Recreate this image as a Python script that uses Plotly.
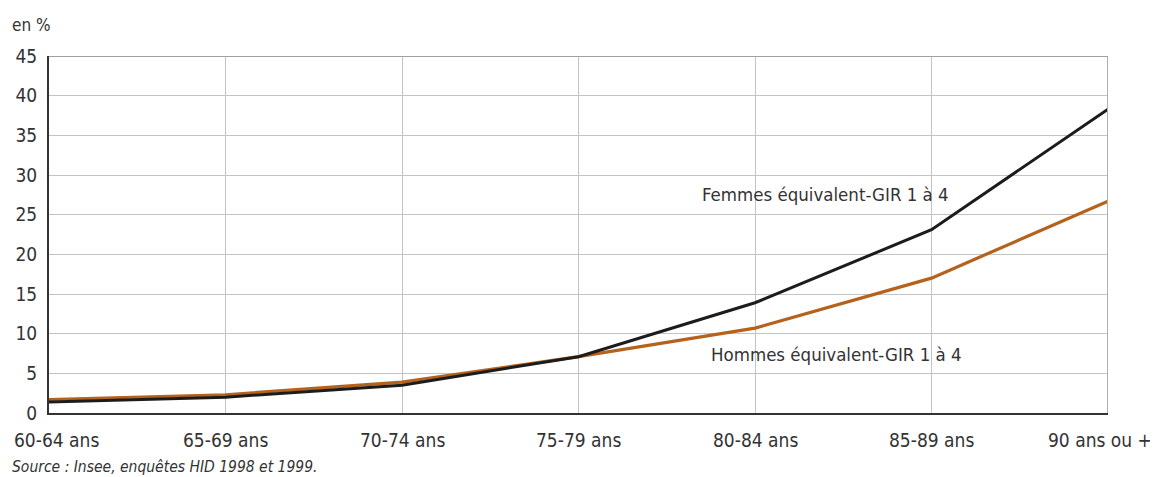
import plotly.graph_objects as go

categories = ["60-64 ans", "65-69 ans", "70-74 ans", "75-79 ans", "80-84 ans", "85-89 ans", "90 ans ou +"]
femmes = [1.4, 2.0, 3.5, 7.1, 13.9, 23.1, 38.3]
hommes = [1.7, 2.3, 3.9, 7.1, 10.7, 17.0, 26.7]
y_ticks = [0, 5, 10, 15, 20, 25, 30, 35, 40, 45]

FONT = "Liberation Sans Narrow, Arial Narrow, DejaVu Sans Condensed, sans-serif"
TXT = "#333333"
PW, PH = 1059, 357

xs = list(range(len(categories)))

fig = go.Figure()
fig.add_trace(go.Scatter(x=xs, y=hommes, mode="lines",
                         line=dict(color="#b5621c", width=3.2), showlegend=False))
fig.add_trace(go.Scatter(x=xs, y=femmes, mode="lines",
                         line=dict(color="#1c1c1c", width=3), showlegend=False))

fig.update_layout(
    width=1150, height=469,
    margin=dict(l=41, r=50, t=48, b=64, autoexpand=False),
    paper_bgcolor="white", plot_bgcolor="white",
    font=dict(family=FONT, color=TXT, size=16),
    xaxis=dict(range=[0, len(categories) - 1], tickmode="array",
               tickvals=xs, ticktext=categories, showticklabels=False,
               showgrid=True, gridcolor="#c4c4c4", gridwidth=1,
               showline=True, linecolor="#333333", linewidth=2,
               ticks="", zeroline=False, automargin=False),
    yaxis=dict(range=[0, 45], tickmode="array", tickvals=y_ticks,
               showgrid=True, gridcolor="#c4c4c4", gridwidth=1,
               showline=True, linecolor="#333333", linewidth=2,
               ticks="", tickfont=dict(size=19, family=FONT, color=TXT),
               zeroline=False, automargin=False, ticklabelstandoff=6,
               ticklabeloverflow="allow"),
)

# category labels along the x axis (edge labels nudged inward as in the original)
for i, cat in enumerate(categories):
    shift = 7 if i == 0 else (-8 if i == len(categories) - 1 else 0)
    fig.add_annotation(text=cat, xref="x", yref="paper", x=xs[i], y=-27/PH,
                       xanchor="center", yanchor="middle", xshift=shift, showarrow=False,
                       font=dict(size=19, family=FONT, color=TXT))

# right border and top border
fig.add_shape(type="line", xref="x", yref="paper", x0=xs[-1], x1=xs[-1],
              y0=0, y1=1, line=dict(color="#b0b0b0", width=2))
fig.add_shape(type="line", xref="paper", yref="y", x0=0, x1=1, y0=45, y1=45,
              line=dict(color="#a0a0a0", width=2))

fig.add_annotation(text="en %", xref="paper", yref="paper", x=-39/PW, y=1 + 31/PH,
                   xanchor="left", yanchor="middle", showarrow=False,
                   font=dict(size=17, family=FONT, color=TXT))
fig.add_annotation(text="Femmes équivalent-GIR 1 à 4", xref="x", yref="y", x=4.4, y=27.5,
                   xanchor="center", yanchor="middle", showarrow=False,
                   font=dict(size=18.5, family=FONT, color=TXT))
fig.add_annotation(text="Hommes équivalent-GIR 1 à 4", xref="x", yref="y", x=4.46, y=7.4,
                   xanchor="center", yanchor="middle", showarrow=False,
                   font=dict(size=18.5, family=FONT, color=TXT))
fig.add_annotation(text="<i>Source : Insee, enquêtes HID 1998 et 1999.</i>", xref="paper", yref="paper",
                   x=-39/PW, y=-54/PH, xanchor="left", yanchor="middle", showarrow=False,
                   font=dict(size=15.5, family=FONT, color=TXT))

fig.write_html("out.html")
